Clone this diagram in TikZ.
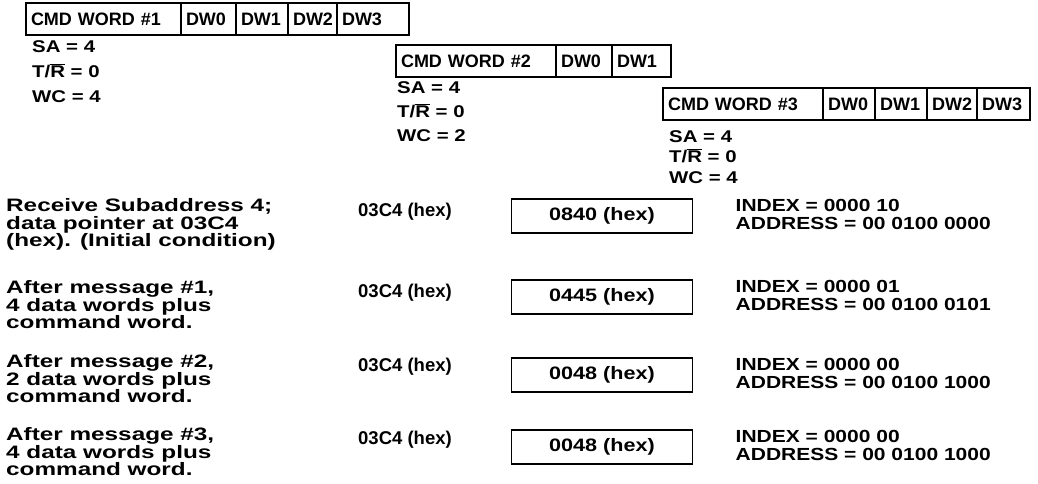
\documentclass[tikz,border=0pt]{standalone}
\usepackage{fontspec}
\setmainfont[FakeStretch=1.2]{Liberation Sans}
\newfontfamily\rowfont[FakeStretch=1.35]{Liberation Sans}
\newfontfamily\cellfont{Liberation Sans}
\usetikzlibrary{positioning}

\newcommand{\TRbar}{T/$\overline{\mbox{R}}$}

\begin{document}
\begin{tikzpicture}[
        x=1pt, y=1pt,
        cell/.style={draw, line width=1.6pt, minimum height=32pt, inner xsep=5pt, inner ysep=0pt, outer sep=0pt, align=left, font=\cellfont\fontsize{18}{18}\selectfont\bfseries},
        param/.style={inner sep=0pt, align=left, font=\fontsize{17}{25}\selectfont\bfseries},
        msg/.style={anchor=north west, inner sep=0pt, align=left, font=\rowfont\fontsize{18}{17.8}\selectfont\bfseries},
        ptr/.style={anchor=west, inner sep=0pt, font=\cellfont\fontsize{18.5}{18}\selectfont\bfseries},
        word/.style={draw, line width=1.6pt, minimum width=181pt, minimum height=34pt, inner sep=0pt, outer sep=0pt, font=\fontsize{18}{18}\selectfont\bfseries},
        idx/.style={inner sep=0pt, align=left, font=\fontsize{17.5}{18}\selectfont\bfseries}
    ]
        \useasboundingbox (0,0) rectangle (1038,-483);

        % message 1
        \node[cell, text width=145pt, anchor=north west] (cmdA) at (26,-3) {CMD WORD \#1};
        \node[cell, text width=45pt, right=0pt of cmdA] (dwA0) {DW0};
        \node[cell, text width=42pt, right=0pt of dwA0] (dwA1) {DW1};
        \node[cell, text width=39pt, right=0pt of dwA1] (dwA2) {DW2};
        \node[cell, text width=62pt, right=0pt of dwA2] (dwA3) {DW3};
        \node[param, below=5pt of cmdA.south west, anchor=north west, xshift=6pt] (parA) {SA = 4\\\TRbar{} = 0\\WC = 4};

        % message 2
        \node[cell, text width=150pt, anchor=north west] (cmdB) at (396,-45) {CMD WORD \#2};
        \node[cell, text width=46pt, right=0pt of cmdB] (dwB0) {DW0};
        \node[cell, text width=49pt, right=0pt of dwB0] (dwB1) {DW1};
        \node[param, below=4pt of cmdB.south west, anchor=north west, xshift=1pt, font=\fontsize{17}{24}\selectfont\bfseries] (parB) {SA = 4\\\TRbar{} = 0\\WC = 2};

        % message 3
        \node[cell, text width=150pt, anchor=north west] (cmdC) at (663,-88) {CMD WORD \#3};
        \node[cell, text width=42pt, right=0pt of cmdC] (dwC0) {DW0};
        \node[cell, text width=42pt, right=0pt of dwC0] (dwC1) {DW1};
        \node[cell, text width=40pt, right=0pt of dwC1] (dwC2) {DW2};
        \node[cell, text width=43pt, right=0pt of dwC2] (dwC3) {DW3};
        \node[param, below=10pt of cmdC.south west, anchor=north west, xshift=6pt, font=\fontsize{17}{20.5}\selectfont\bfseries] (parC) {SA = 4\\\TRbar{} = 0\\WC = 4};

        % descriptor table
        \node[msg] (msgA) at (6,-198) {Receive Subaddress 4;\\data pointer at 03C4\\(hex). (Initial condition)};
        \node[ptr] (ptrA) at (358,-212) {03C4 (hex)};
        \node[word] (wordA) at (602,-216) {0840 (hex)};
        \node[idx, right=43pt of wordA.north east, anchor=north west] (idxA) {INDEX = 0000 10\\ADDRESS = 00 0100 0000};

        \node[msg] (msgB) at (6,-280) {After message \#1,\\4 data words plus\\command word.};
        \node[ptr] (ptrB) at (358,-293) {03C4 (hex)};
        \node[word] (wordB) at (602,-297) {0445 (hex)};
        \node[idx, right=43pt of wordB.north east, anchor=north west] (idxB) {INDEX = 0000 01\\ADDRESS = 00 0100 0101};

        \node[msg] (msgC) at (6,-354) {After message \#2,\\2 data words plus\\command word.};
        \node[ptr] (ptrC) at (358,-367) {03C4 (hex)};
        \node[word] (wordC) at (602,-375) {0048 (hex)};
        \node[idx, right=43pt of wordC.north east, anchor=north west] (idxC) {INDEX = 0000 00\\ADDRESS = 00 0100 1000};

        \node[msg] (msgD) at (6,-427) {After message \#3,\\4 data words plus\\command word.};
        \node[ptr] (ptrD) at (358,-440) {03C4 (hex)};
        \node[word] (wordD) at (602,-447) {0048 (hex)};
        \node[idx, right=43pt of wordD.north east, anchor=north west] (idxD) {INDEX = 0000 00\\ADDRESS = 00 0100 1000};
    \end{tikzpicture}
\end{document}
